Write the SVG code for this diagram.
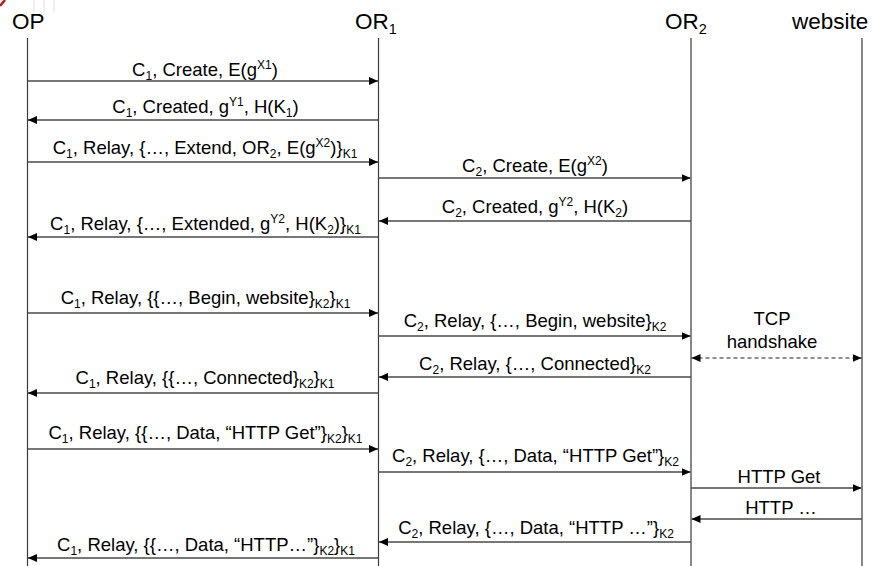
<svg xmlns="http://www.w3.org/2000/svg" width="873" height="566" viewBox="0 0 873 566">
  <style>
    .hdr { font-family: "Liberation Sans", Arial, sans-serif; font-size: 22.5px; fill: #000; }
    .lbl { font-family: "Liberation Sans", Arial, sans-serif; font-size: 18.5px; fill: #000; text-anchor: middle; }
    .s { font-size: 12px; }
    .hs { font-size: 14.5px; }
    .life { stroke: #3a3a3a; stroke-width: 1.2; fill: none; }
    .msg { stroke: #4a4a4a; stroke-width: 1.3; fill: none; marker-end: url(#head); }
    .dash { stroke: #222; stroke-width: 1.2; fill: none; stroke-dasharray: 4 3; marker-start: url(#head); marker-end: url(#head); }
  </style>
  <defs>
    <marker id="head" markerUnits="userSpaceOnUse" markerWidth="10" markerHeight="8" refX="9" refY="4" orient="auto-start-reverse">
      <path d="M0,0 L9,4 L0,8 z" fill="#000"/>
    </marker>
  </defs>

  <rect width="873" height="566" fill="#fff"/>

  <!-- clipped fragment at the top-left corner -->
  <g id="corner">
    <path d="M0,6 L5,0" stroke="#b02020" stroke-width="2.5"/>
    <path d="M34,0 V12 M44,0 V12 M54,0 V12" stroke="#e4e4e4" stroke-width="1.2"/>
  </g>

  <!-- participants -->
  <g id="op">
    <text class="hdr" x="12" y="29">OP</text>
    <line class="life" x1="27.5" y1="38" x2="27.5" y2="566"/>
  </g>
  <g id="or1">
    <text class="hdr" x="355" y="29">OR<tspan class="hs" dy="5">1</tspan></text>
    <line class="life" x1="378.5" y1="38" x2="378.5" y2="566"/>
  </g>
  <g id="or2">
    <text class="hdr" x="665" y="29">OR<tspan class="hs" dy="5">2</tspan></text>
    <line class="life" x1="691" y1="38" x2="691" y2="566"/>
  </g>
  <g id="website">
    <text class="hdr" x="792" y="29">website</text>
    <line class="life" x1="862" y1="38" x2="862" y2="566"/>
  </g>

  <!-- messages -->
  <g id="connectors">
    <line class="msg" x1="27.5" y1="81" x2="378" y2="81"/>
    <line class="msg" x1="378.5" y1="120" x2="28" y2="120"/>
    <line class="msg" x1="27.5" y1="162" x2="378" y2="162"/>
    <line class="msg" x1="378.5" y1="178" x2="690.5" y2="178"/>
    <line class="msg" x1="691" y1="221" x2="379" y2="221"/>
    <line class="msg" x1="378.5" y1="237" x2="28" y2="237"/>
    <line class="msg" x1="27.5" y1="313" x2="378" y2="313"/>
    <line class="msg" x1="378.5" y1="336" x2="690.5" y2="336"/>
    <line class="dash" x1="691.5" y1="358" x2="861.5" y2="358"/>
    <line class="msg" x1="691" y1="377" x2="379" y2="377"/>
    <line class="msg" x1="378.5" y1="393" x2="28" y2="393"/>
    <line class="msg" x1="27.5" y1="449" x2="378" y2="449"/>
    <line class="msg" x1="378.5" y1="472" x2="690.5" y2="472"/>
    <line class="msg" x1="691" y1="488" x2="861.5" y2="488"/>
    <line class="msg" x1="862" y1="519" x2="691.5" y2="519"/>
    <line class="msg" x1="691" y1="542" x2="379" y2="542"/>
    <line class="msg" x1="378.5" y1="558" x2="28" y2="558"/>
  </g>

  <!-- message labels -->
  <g id="labels">
    <text class="lbl" x="205" y="76">C<tspan class="s" dy="4">1</tspan><tspan dy="-4">, Create, E(g</tspan><tspan class="s" dy="-7">X1</tspan><tspan dy="7">)</tspan></text>
    <text class="lbl" x="205.5" y="113">C<tspan class="s" dy="4">1</tspan><tspan dy="-4">, Created, g</tspan><tspan class="s" dy="-7">Y1</tspan><tspan dy="7">, H(K</tspan><tspan class="s" dy="4">1</tspan><tspan dy="-4">)</tspan></text>
    <text class="lbl" x="205" y="154">C<tspan class="s" dy="4">1</tspan><tspan dy="-4">, Relay, {…, Extend, OR</tspan><tspan class="s" dy="4">2</tspan><tspan dy="-4">, E(g</tspan><tspan class="s" dy="-7">X2</tspan><tspan dy="7">)}</tspan><tspan class="s" dy="4">K1</tspan></text>
    <text class="lbl" x="535" y="171.5">C<tspan class="s" dy="4">2</tspan><tspan dy="-4">, Create, E(g</tspan><tspan class="s" dy="-7">X2</tspan><tspan dy="7">)</tspan></text>
    <text class="lbl" x="535" y="213">C<tspan class="s" dy="4">2</tspan><tspan dy="-4">, Created, g</tspan><tspan class="s" dy="-7">Y2</tspan><tspan dy="7">, H(K</tspan><tspan class="s" dy="4">2</tspan><tspan dy="-4">)</tspan></text>
    <text class="lbl" x="205.5" y="230">C<tspan class="s" dy="4">1</tspan><tspan dy="-4">, Relay, {…, Extended, g</tspan><tspan class="s" dy="-7">Y2</tspan><tspan dy="7">, H(K</tspan><tspan class="s" dy="4">2</tspan><tspan dy="-4">)}</tspan><tspan class="s" dy="4">K1</tspan></text>
    <text class="lbl" x="205.5" y="304">C<tspan class="s" dy="4">1</tspan><tspan dy="-4">, Relay, {{…, Begin, website}</tspan><tspan class="s" dy="4">K2</tspan><tspan dy="-4">}</tspan><tspan class="s" dy="4">K1</tspan></text>
    <text class="lbl" x="535" y="327">C<tspan class="s" dy="4">2</tspan><tspan dy="-4">, Relay, {…, Begin, website}</tspan><tspan class="s" dy="4">K2</tspan></text>
    <text class="lbl" x="772" y="325">TCP</text>
    <text class="lbl" x="772" y="347.5">handshake</text>
    <text class="lbl" x="535" y="370">C<tspan class="s" dy="4">2</tspan><tspan dy="-4">, Relay, {…, Connected}</tspan><tspan class="s" dy="4">K2</tspan></text>
    <text class="lbl" x="205" y="384">C<tspan class="s" dy="4">1</tspan><tspan dy="-4">, Relay, {{…, Connected}</tspan><tspan class="s" dy="4">K2</tspan><tspan dy="-4">}</tspan><tspan class="s" dy="4">K1</tspan></text>
    <text class="lbl" x="205.5" y="438.5">C<tspan class="s" dy="4">1</tspan><tspan dy="-4">, Relay, {{…, Data, “HTTP Get”}</tspan><tspan class="s" dy="4">K2</tspan><tspan dy="-4">}</tspan><tspan class="s" dy="4">K1</tspan></text>
    <text class="lbl" x="535.5" y="462">C<tspan class="s" dy="4">2</tspan><tspan dy="-4">, Relay, {…, Data, “HTTP Get”}</tspan><tspan class="s" dy="4">K2</tspan></text>
    <text class="lbl" x="779" y="483">HTTP Get</text>
    <text class="lbl" x="781" y="514">HTTP …</text>
    <text class="lbl" x="536" y="533.5">C<tspan class="s" dy="4">2</tspan><tspan dy="-4">, Relay, {…, Data, “HTTP …”}</tspan><tspan class="s" dy="4">K2</tspan></text>
    <text class="lbl" x="206" y="550.5">C<tspan class="s" dy="4">1</tspan><tspan dy="-4">, Relay, {{…, Data, “HTTP…”}</tspan><tspan class="s" dy="4">K2</tspan><tspan dy="-4">}</tspan><tspan class="s" dy="4">K1</tspan></text>
  </g>
</svg>
